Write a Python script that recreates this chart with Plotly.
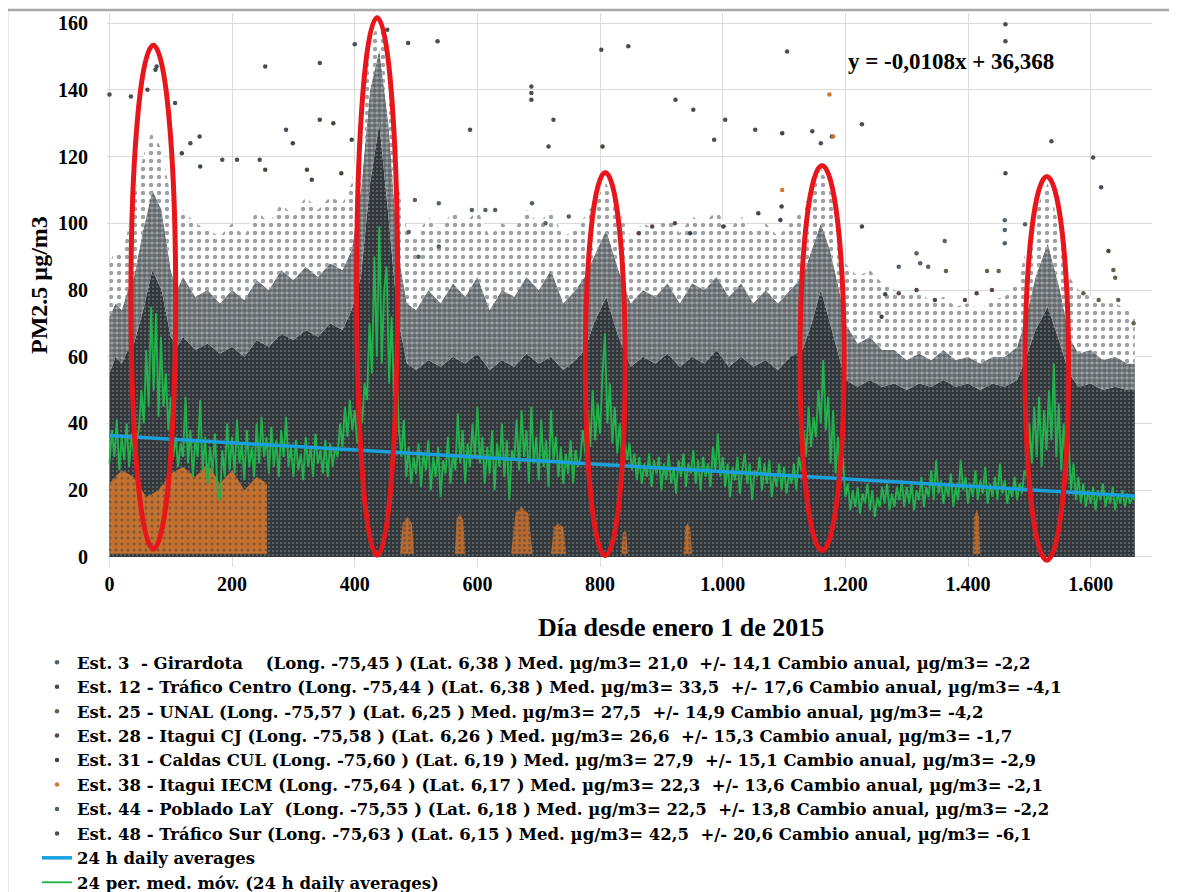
import plotly.graph_objects as go

# ------------------------------------------------------------------ data
x_tickvals = [0, 200, 400, 600, 800, 1000, 1200, 1400, 1600]
x_ticktext = ["0", "200", "400", "600", "800", "1.000", "1.200", "1.400", "1.600"]
y_tickvals = [0, 20, 40, 60, 80, 100, 120, 140, 160]

# 24-period moving average (green), one value every 4 days from day 0
ma_step = 4
moving_avg = [
    28, 38, 30, 41, 26, 36, 29, 40, 27, 37, 30, 35, 38, 50, 40, 62, 45, 75, 50, 73, 42, 66, 45, 55, 38,
    48, 30, 36, 27, 34, 30, 48, 28, 38, 24, 35, 30, 47, 26, 36, 22, 33, 25, 37, 20, 17, 32, 24, 40, 26,
    36, 25, 41, 28, 34, 23, 38, 27, 33, 24, 40, 28, 42, 30, 36, 25, 39, 27, 35, 24, 38, 30, 42, 27, 33,
    24, 35, 26, 31, 23, 36, 27, 33, 24, 37, 28, 32, 25, 35, 24, 34, 27, 33, 30, 40, 33, 45, 36, 47, 38,
    44, 34, 46, 40, 52, 47, 70, 55, 90, 60, 99, 58, 80, 87, 52, 72, 48, 60, 38, 30, 41, 24, 33, 22, 30,
    25, 34, 21, 31, 26, 35, 20, 30, 24, 33, 18, 29, 25, 36, 22, 31, 26, 43, 28, 38, 22, 34, 27, 40, 30,
    45, 28, 36, 22, 33, 25, 38, 20, 34, 27, 40, 24, 35, 17, 32, 29, 41, 26, 44, 30, 38, 22, 45, 28, 36,
    23, 41, 27, 35, 21, 44, 29, 36, 24, 33, 22, 31, 25, 35, 22, 32, 27, 30, 38, 31, 44, 33, 50, 35, 46,
    37, 55, 67, 40, 52, 34, 45, 31, 40, 30, 36, 29, 34, 26, 31, 23, 30, 22, 28, 24, 31, 21, 29, 25, 30,
    20, 28, 23, 31, 22, 27, 19, 29, 24, 31, 21, 28, 25, 32, 22, 29, 20, 30, 24, 28, 21, 33, 26, 37, 24,
    30, 21, 28, 18, 27, 23, 30, 19, 26, 31, 22, 28, 17, 26, 24, 30, 20, 28, 22, 29, 18, 25, 21, 28, 20,
    27, 19, 25, 22, 28, 20, 30, 26, 38, 30, 45, 33, 42, 36, 50, 40, 59, 38, 48, 28, 44, 25, 36, 22, 30,
    18, 22, 14, 20, 15, 21, 13, 19, 16, 22, 14, 20, 12, 18, 15, 21, 16, 22, 14, 19, 15, 21, 17, 23, 15,
    21, 16, 22, 14, 20, 17, 24, 15, 21, 18, 26, 17, 29, 19, 23, 16, 22, 18, 25, 15, 21, 17, 29, 20, 24,
    16, 22, 18, 26, 17, 23, 19, 27, 16, 22, 18, 24, 17, 28, 19, 23, 16, 21, 18, 24, 17, 22, 19, 26, 24,
    40, 28, 45, 30, 48, 27, 44, 32, 50, 35, 58, 30, 46, 26, 40, 22, 35, 20, 28, 17, 24, 16, 22, 15, 20,
    16, 21, 14, 20, 17, 22, 15, 19, 16, 21, 14, 19, 16, 20, 15, 19, 16, 18, 17,
]
ma_days = [i * ma_step for i in range(len(moving_avg))]

# linear trend (blue)  y = -0,0108x + 36,368
trend_days = [0, 1672]
trend_values = [36.4, 18.3]

# envelope of the hourly-data cloud (all stations): dense core, semi-dense, sparse
cloud_days = [0, 10, 20, 30, 40, 55, 70, 85, 100, 110,
              120, 140, 160, 180, 200, 220, 240, 260, 280, 300,
              320, 340, 360, 380, 395, 410, 425, 440, 455, 470,
              485, 500, 520, 540, 560, 580, 600, 620, 640, 660,
              680, 700, 720, 740, 760, 775, 790, 810, 830, 850,
              870, 890, 910, 930, 950, 970, 990, 1010, 1030, 1050,
              1070, 1090, 1110, 1130, 1145, 1160, 1175, 1190, 1200, 1220,
              1240, 1260, 1280, 1300, 1320, 1340, 1360, 1380, 1400, 1420,
              1440, 1460, 1480, 1495, 1510, 1530, 1550, 1565, 1580, 1600,
              1620, 1640, 1660, 1672]
dense_top = [55, 60, 58, 62, 64, 74, 86, 80, 66, 63,
             66, 62, 64, 61, 63, 60, 65, 63, 67, 65,
             68, 66, 70, 68, 74, 84, 112, 130, 102, 72,
             58, 56, 59, 57, 60, 58, 61, 56, 59, 57,
             61, 58, 60, 56, 59, 62, 70, 78, 66, 57,
             60, 58, 61, 57, 60, 58, 62, 57, 60, 57,
             59, 56, 60, 62, 70, 80, 70, 60, 53, 51,
             53, 51, 52, 50, 52, 51, 53, 51, 52, 50,
             52, 51, 53, 60, 68, 75, 64, 55, 51, 52,
             50, 51, 50, 50]
mid_top = [72, 76, 74, 80, 84, 98, 110, 104, 86, 80,
           84, 78, 80, 76, 80, 77, 83, 80, 86, 83,
           87, 84, 88, 86, 92, 110, 140, 152, 130, 92,
           76, 74, 80, 76, 82, 78, 84, 74, 80, 78,
           84, 80, 86, 76, 80, 84, 90, 98, 86, 76,
           80, 78, 82, 76, 82, 80, 84, 78, 82, 76,
           80, 76, 80, 84, 92, 100, 92, 80, 70, 64,
           66, 62, 62, 59, 61, 59, 62, 59, 60, 58,
           60, 60, 63, 72, 84, 94, 80, 66, 61, 62,
           59, 60, 58, 58]
sparse_top = [88, 92, 90, 98, 108, 120, 128, 122, 108, 100,
              104, 100, 98, 96, 100, 96, 104, 100, 106, 102,
              108, 104, 108, 106, 112, 130, 155, 160, 150, 112,
              98, 96, 102, 98, 104, 100, 104, 96, 100, 98,
              104, 100, 104, 96, 98, 102, 106, 112, 104, 96,
              100, 98, 102, 97, 102, 100, 104, 98, 102, 97,
              100, 96, 100, 104, 110, 117, 110, 98, 88, 84,
              86, 82, 80, 78, 80, 76, 78, 75, 76, 74,
              77, 78, 82, 92, 104, 112, 98, 84, 80, 78,
              76, 76, 74, 72]

# Est. 38 (orange) low-value block in the first months and small later patches
orange_days = [0, 20, 40, 60, 80, 100, 120, 140, 160, 180, 200, 220, 240, 257]
orange_top = [22, 26, 24, 18, 20, 25, 27, 24, 28, 22, 26, 20, 24, 22]
orange_patch_days = [[474, 478, 486, 493, 497], [563, 566, 571, 577, 580], [655, 662, 672, 683, 690],
                     [720, 725, 732, 740, 745], [835, 837, 840, 843, 845], [936, 939, 943, 947, 950],
                     [1408, 1410, 1414, 1418, 1420]]
orange_patch_vals = [[1, 10, 12, 10, 1], [1, 11, 13, 11, 1], [1, 13, 15, 13, 1],
                     [1, 9, 10, 9, 1], [1, 7, 8, 7, 1], [1, 9, 10, 9, 1], [1, 12, 14, 12, 1]]

# isolated high values per station
est3_days = [1460, 1460, 1460, 1493, 1362, 1316, 1322, 1287, 1335]
est3_vals = [100.9, 98, 94, 99.7, 94.7, 91, 88, 87, 87]
est12_days = [299, 343, 365, 395, 322, 330, 254, 378, 148, 118, 804, 1097, 1178, 1629]
est12_vals = [124, 131, 130, 125, 116, 113, 116, 115, 117, 121, 123, 127, 126, 91.7]
est25_days = [1364, 1431, 1450, 1637, 1640, 1670, 1613, 1645, 1588]
est25_vals = [85.7, 85.7, 85.7, 86, 83.7, 70, 77, 77, 79]
est28_days = [1287, 1316, 1346, 1395, 1414, 1439, 863, 885, 922]
est28_vals = [79, 80, 77, 77, 79, 80, 97, 99, 100]
est31_days = [947, 1001, 1058, 1094, 1096, 1227, 1265, 1259]
est31_vals = [97, 99, 103, 101, 105, 99, 78.7, 72]
est38_days = [1174, 1180, 1097]
est38_vals = [138.6, 126, 110]
est44_days = [498, 537, 591, 613, 629, 689, 749, 711, 488, 504, 537]
est44_vals = [107, 106, 104, 104, 104, 106, 102, 100, 97.4, 90, 93]
est48_days = [0, 35, 62, 75, 77, 107, 132, 147, 184, 208, 245, 254, 288, 343, 400, 453, 487, 535,
              588, 688, 688, 688, 716, 724, 802, 846, 923, 952, 986, 1004, 1053, 1105, 1146,
              1160, 1227, 1461, 1461, 1461, 1536, 1604, 1617]
est48_vals = [138.6, 138, 140, 146, 147, 136, 124, 126, 119, 119, 119, 147, 128, 148, 153.6, 158, 154, 154.5,
              128, 141, 139, 137, 123, 131, 152, 153, 137, 134, 125, 131, 128, 151.5, 127.6,
              124, 129.7, 159.6, 154.5, 115, 124.6, 119.7, 110.8]

station_names = [
    "Est. 3\u00a0 - Girardota\u00a0\u00a0\u00a0 (Long. -75,45 ) (Lat. 6,38 ) Med. µg/m3= 21,0\u00a0 +/- 14,1 Cambio anual, µg/m3= -2,2",
    "Est. 12 - Tráfico Centro (Long. -75,44 ) (Lat. 6,38 ) Med. µg/m3= 33,5\u00a0 +/- 17,6 Cambio anual, µg/m3= -4,1",
    "Est. 25 - UNAL (Long. -75,57 ) (Lat. 6,25 ) Med. µg/m3= 27,5\u00a0 +/- 14,9 Cambio anual, µg/m3= -4,2",
    "Est. 28 - Itagui CJ (Long. -75,58 ) (Lat. 6,26 ) Med. µg/m3= 26,6\u00a0 +/- 15,3 Cambio anual, µg/m3= -1,7",
    "Est. 31 - Caldas CUL (Long. -75,60 ) (Lat. 6,19 ) Med. µg/m3= 27,9\u00a0 +/- 15,1 Cambio anual, µg/m3= -2,9",
    "Est. 38 - Itagui IECM (Long. -75,64 ) (Lat. 6,17 ) Med. µg/m3= 22,3\u00a0 +/- 13,6 Cambio anual, µg/m3= -2,1",
    "Est. 44 - Poblado LaY\u00a0 (Long. -75,55 ) (Lat. 6,18 ) Med. µg/m3= 22,5\u00a0 +/- 13,8 Cambio anual, µg/m3= -2,2",
    "Est. 48 - Tráfico Sur (Long. -75,63 ) (Lat. 6,15 ) Med. µg/m3= 42,5\u00a0 +/- 20,6 Cambio anual, µg/m3= -6,1",
]
station_days = [est3_days, est12_days, est25_days, est28_days, est31_days, est38_days, est44_days, est48_days]
station_vals = [est3_vals, est12_vals, est25_vals, est28_vals, est31_vals, est38_vals, est44_vals, est48_vals]
station_colors = ["#56606a", "#3e4a3c", "#5c6648", "#5a4444", "#3f464f", "#d0782e", "#55625a", "#474e55"]

# highlighted episodes (red ellipses): day range and value range
ellipse_day0 = [35, 403, 776, 1126, 1493]
ellipse_day1 = [108, 470, 841, 1198, 1564]
ellipse_val0 = [2.4, 0.5, 0.4, 1.9, -1.0]
ellipse_val1 = [153.3, 161.6, 115.2, 117.3, 114.0]

equation_text = "y = -0,0108x + 36,368"

# ------------------------------------------------------------------ figure
SERIF = "Liberation Serif"
NOLINE = dict(width=0, color="rgba(0,0,0,0)")
fig = go.Figure()

fig.add_trace(go.Scatter(
    x=cloud_days, y=dense_top, mode="lines", line=NOLINE, fill="tozeroy", fillcolor="#383d41",
    fillpattern=dict(shape=".", bgcolor="#33383c", fgcolor="#9aa3a8", size=4, solidity=0.2),
    showlegend=False, hoverinfo="skip"))
fig.add_trace(go.Scatter(
    x=cloud_days, y=mid_top, mode="lines", line=NOLINE, fill="tonexty", fillcolor="#4a5055",
    fillpattern=dict(shape=".", bgcolor="#9ea3a6", fgcolor="#2a2f33", size=5, solidity=0.7),
    showlegend=False, hoverinfo="skip"))
fig.add_trace(go.Scatter(
    x=cloud_days, y=sparse_top, mode="lines", line=NOLINE, fill="tonexty", fillcolor="#d0d0d0",
    fillpattern=dict(shape=".", bgcolor="#ffffff", fgcolor="#3e4449", size=8, solidity=0.25),
    showlegend=False, hoverinfo="skip"))

fig.add_trace(go.Scatter(
    x=orange_days + orange_days[::-1], y=orange_top + [1] * len(orange_days),
    mode="lines", line=NOLINE, fill="toself", fillcolor="#c4702e",
    fillpattern=dict(shape=".", bgcolor="#c4702e", fgcolor="#3c4246", size=6, solidity=0.2),
    showlegend=False, hoverinfo="skip"))
for pd_, pv_ in zip(orange_patch_days, orange_patch_vals):
    fig.add_trace(go.Scatter(
        x=pd_, y=pv_, mode="lines", line=NOLINE, fill="toself", fillcolor="#b8692e",
        fillpattern=dict(shape=".", bgcolor="#b8692e", fgcolor="#3c4246", size=5, solidity=0.25),
        showlegend=False, hoverinfo="skip"))

for i, (nm, dd, vv, cc) in enumerate(zip(station_names, station_days, station_vals, station_colors)):
    fig.add_trace(go.Scatter(
        x=dd, y=vv, mode="markers", name=nm, legendrank=1001 + i,
        marker=dict(size=4.5, color=cc, line=dict(width=0))))

fig.add_trace(go.Scatter(
    x=ma_days, y=moving_avg, mode="lines", name="24 per. med. móv. (24 h daily averages)",
    legendrank=1010, line=dict(color="#22b24c", width=1.9)))
fig.add_trace(go.Scatter(
    x=trend_days, y=trend_values, mode="lines", name="24 h daily averages",
    legendrank=1009, line=dict(color="#1aa0dd", width=3.5)))

for x0, x1, y0, y1 in zip(ellipse_day0, ellipse_day1, ellipse_val0, ellipse_val1):
    fig.add_shape(type="circle", xref="x", yref="y", x0=x0, x1=x1, y0=y0, y1=y1,
                  line=dict(color="#e8161b", width=5), layer="above")

# outer frame
fig.add_shape(type="rect", xref="paper", yref="paper", x0=-0.0957, x1=1.06, y0=-0.62, y1=1.0054,
              line=dict(color="#a8a8a8", width=2.5), fillcolor="rgba(0,0,0,0)", layer="above")

fig.add_annotation(x=1372, y=148.6, xref="x", yref="y", text=equation_text, showarrow=False,
                   font=dict(family=SERIF, size=23, color="black", weight="bold"))
fig.add_annotation(x=0.549, y=-0.110, xref="paper", yref="paper", text="Día desde enero 1 de 2015",
                   showarrow=False, xanchor="center", yanchor="middle",
                   font=dict(family=SERIF, size=26, color="black", weight="bold"))
fig.add_annotation(x=-0.0651, y=0.509, xref="paper", yref="paper", text="PM2.5 µg/m3",
                   showarrow=False, textangle=-90, xanchor="center", yanchor="middle",
                   font=dict(family=SERIF, size=24, color="black", weight="bold"))

fig.update_layout(
    width=1169, height=884,
    margin=dict(l=99, r=25, t=5, b=325, autoexpand=False),
    paper_bgcolor="white", plot_bgcolor="white",
    font=dict(family=SERIF, color="black"),
    showlegend=True,
    legend=dict(
        xref="container", yref="container", x=29 / 1169, y=1 - 637 / 884,
        xanchor="left", yanchor="top", bgcolor="rgba(0,0,0,0)", borderwidth=0,
        font=dict(family="DejaVu Serif", size=16.5, color="black", weight="bold"),
        itemwidth=30, tracegroupgap=0, traceorder="normal",
    ),
    xaxis=dict(
        range=[-4, 1700], tickvals=x_tickvals, ticktext=x_ticktext,
        showgrid=True, gridcolor="#dadada", gridwidth=1, zeroline=False, showline=False,
        ticks="", ticklabelstandoff=3,
        tickfont=dict(family=SERIF, size=20, color="black", weight="bold"),
    ),
    yaxis=dict(
        range=[-3, 163], tickvals=y_tickvals,
        showgrid=True, gridcolor="#dadada", gridwidth=1, zeroline=False, showline=False,
        ticks="", ticklabelstandoff=18,
        tickfont=dict(family=SERIF, size=20, color="black", weight="bold"),
    ),
)

fig.write_html("out.html")
